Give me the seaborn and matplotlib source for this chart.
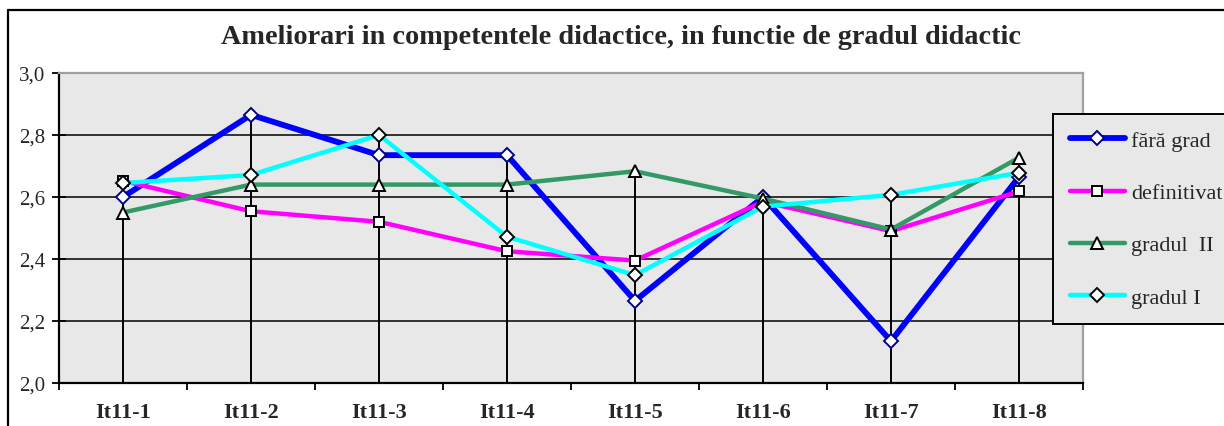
import matplotlib
matplotlib.use("Agg")
import matplotlib.pyplot as plt
import seaborn as sns
import numpy as np
from matplotlib.ticker import FuncFormatter, FixedLocator
from matplotlib.lines import Line2D

categories = ["It11-1", "It11-2", "It11-3", "It11-4", "It11-5", "It11-6", "It11-7", "It11-8"]
fara_grad = [2.60, 2.865, 2.735, 2.735, 2.265, 2.60, 2.135, 2.665]
definitivat = [2.652, 2.554, 2.52, 2.425, 2.395, 2.585, 2.49, 2.618]
gradul_II = [2.55, 2.64, 2.64, 2.64, 2.683, 2.595, 2.495, 2.727]
gradul_I = [2.645, 2.671, 2.80, 2.472, 2.348, 2.569, 2.607, 2.678]
series_names = ["fără grad", "definitivat", "gradul  II", "gradul I"]
title = "Ameliorari in competentele didactice, in functie de gradul didactic"

sns.set_style("white")
plt.rcParams["font.family"] = ["Liberation Serif", "DejaVu Serif"]

W, H = 1224, 427
fig = plt.figure(figsize=(W / 100, H / 100), dpi=100)
x0, x1, ytop, ybot = 59, 1083, 74, 384
ax = fig.add_axes([x0 / W, 1 - ybot / H, (x1 - x0) / W, (ybot - ytop) / H])
ax.set_facecolor("#E8E8E8")

xpos = np.arange(len(categories))
allv = np.array([fara_grad, definitivat, gradul_II, gradul_I])
ax.vlines(xpos, 2.0, allv.max(axis=0), color="black", lw=1.4, zorder=1)

for yv in [2.2, 2.4, 2.6, 2.8]:
    ax.axhline(yv, color="black", lw=1.1, zorder=0.5)

specs = [
    (fara_grad, "#0000FF", "D", 7.5, "#000080", 4.2),
    (definitivat, "#FF00FF", "s", 7.5, "black", 3.2),
    (gradul_II, "#339966", "^", 9, "black", 3.2),
    (gradul_I, "#00FFFF", "D", 7.5, "black", 3.2),
]
for (vals, col, mk, ms, mec, lw), name in zip(specs, series_names):
    sns.lineplot(x=xpos, y=vals, ax=ax, color=col, linewidth=lw, marker=mk,
                 markersize=ms, markerfacecolor="white", markeredgecolor=mec,
                 markeredgewidth=1.4, label=name, zorder=3)

ax.set_xlim(-0.5, len(categories) - 0.5)
ax.set_ylim(2.0, 3.0)
ax.set_xlabel("")
ax.set_ylabel("")
ax.set_xticks(xpos)
ax.set_xticklabels(categories, fontsize=16, fontweight="bold")
ax.xaxis.set_minor_locator(FixedLocator(np.arange(-0.5, len(categories), 1.0)))
ax.tick_params(axis="x", which="major", length=0, pad=14)
ax.tick_params(axis="x", which="minor", length=5, width=1.3, direction="out", color="black", bottom=True)
ax.set_yticks([2.0, 2.2, 2.4, 2.6, 2.8, 3.0])
ax.yaxis.set_major_formatter(FuncFormatter(lambda v, p: f"{v:.1f}".replace(".", ",")))
ax.tick_params(axis="y", length=10, width=1.3, direction="inout", color="black", labelsize=15, pad=5, left=True)

for s in ["left", "bottom"]:
    ax.spines[s].set_color("black")
    ax.spines[s].set_linewidth(1.6)
for s in ["top", "right"]:
    ax.spines[s].set_color("#A0A0A0")
    ax.spines[s].set_linewidth(1.6)

if ax.legend_:
    ax.legend_.remove()
handles, labels = ax.get_legend_handles_labels()
leg = fig.legend(handles, labels, loc="upper left",
                 bbox_to_anchor=(1053 / W, 1 - 115 / H), fontsize=16,
                 frameon=True, fancybox=False, shadow=False,
                 facecolor="#E8E8E8", edgecolor="black", framealpha=1,
                 handlelength=2.5, handletextpad=0.25, labelspacing=1.42,
                 borderpad=0.75, borderaxespad=0)
leg.get_frame().set_linewidth(1.4)

fig.text(621 / W, 1 - 38 / H, title, ha="center", va="center",
         fontsize=20.3, fontweight="bold")

fig.add_artist(Line2D([8 / W, 1], [1 - 11 / H, 1 - 11 / H], color="black", lw=1.6, transform=fig.transFigure))
fig.add_artist(Line2D([8 / W, 8 / W], [0, 1 - 11 / H], color="black", lw=1.6, transform=fig.transFigure))

fig.savefig("out.png", dpi=100)
